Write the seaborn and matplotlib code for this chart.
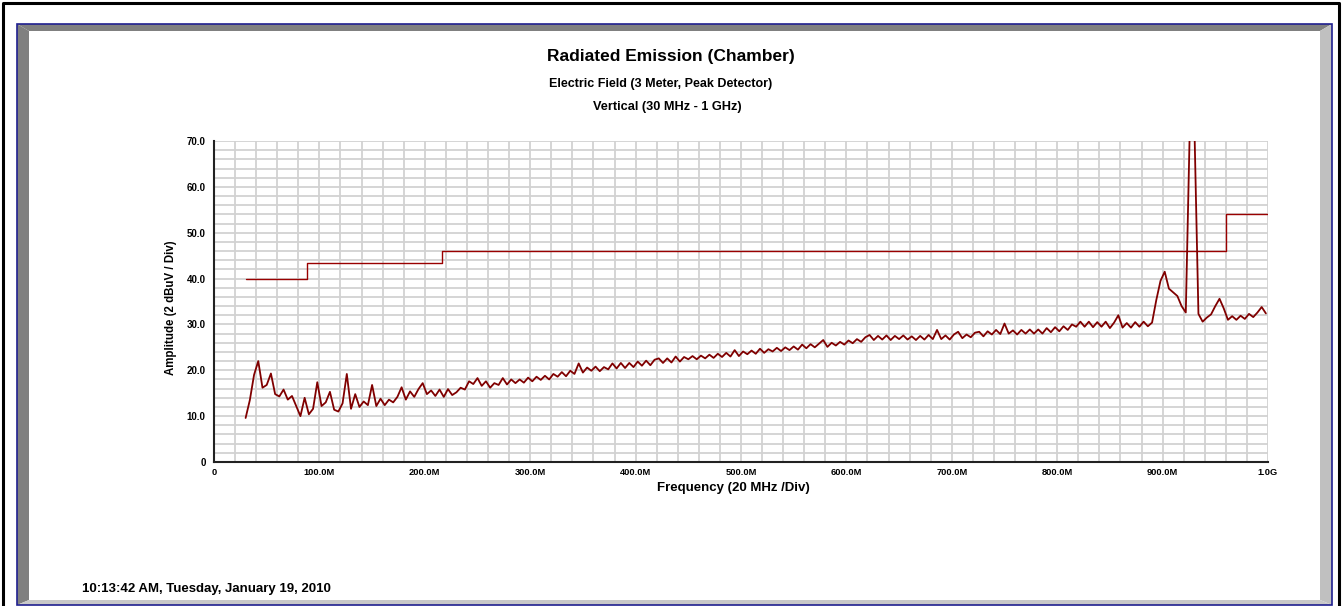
import numpy as np
import pandas as pd
import matplotlib.pyplot as plt
import seaborn as sns
from matplotlib.patches import Rectangle, Polygon
from matplotlib.ticker import MultipleLocator, FixedLocator

# Sweep: 30 MHz - 1 GHz, one reading every 4 MHz (dBuV/m, peak)
freq_mhz = np.arange(30, 1001, 4)
amplitude = [
    9.6, 13.5, 19.0, 22.0, 16.2, 16.8, 19.3, 14.8, 14.3, 15.8,
    13.6, 14.4, 12.2, 10.0, 14.0, 10.4, 11.6, 17.4, 12.2, 13.0,
    15.3, 11.4, 11.0, 12.8, 19.2, 11.6, 14.8, 12.0, 13.2, 12.4,
    16.8, 12.2, 13.8, 12.4, 13.6, 13.0, 14.2, 16.3, 13.6, 15.4,
    14.2, 15.9, 17.2, 14.8, 15.6, 14.4, 15.8, 14.2, 15.9, 14.6,
    15.2, 16.2, 15.8, 17.6, 17.0, 18.3, 16.6, 17.6, 16.2, 17.2,
    16.8, 18.3, 16.9, 18.0, 17.2, 18.0, 17.3, 18.4, 17.6, 18.6,
    17.9, 18.8, 18.0, 19.2, 18.6, 19.6, 18.7, 19.9, 19.2, 21.5,
    19.5, 20.6, 19.9, 20.8, 19.8, 20.7, 20.2, 21.5, 20.4, 21.6,
    20.5, 21.6, 20.7, 21.9, 21.0, 22.1, 21.1, 22.3, 22.6, 21.6,
    22.6, 21.7, 23.0, 21.9, 22.9, 22.4, 23.1, 22.4, 23.2, 22.6,
    23.4, 22.7, 23.6, 22.9, 23.8, 23.0, 24.4, 23.1, 24.1, 23.5,
    24.3, 23.6, 24.7, 23.8, 24.6, 24.1, 24.9, 24.2, 25.0, 24.4,
    25.2, 24.5, 25.6, 24.8, 25.7, 25.0, 25.8, 26.6, 25.1, 26.0,
    25.4, 26.2, 25.6, 26.5, 25.9, 26.8, 26.2, 27.2, 27.7, 26.6,
    27.5, 26.7, 27.6, 26.6, 27.5, 26.8, 27.6, 26.7, 27.4, 26.6,
    27.5, 26.7, 27.7, 26.8, 28.8, 26.8, 27.6, 26.7, 27.8, 28.4,
    27.0, 27.8, 27.2, 28.2, 28.4, 27.4, 28.5, 27.8, 28.8, 27.9,
    30.2, 28.0, 28.7, 27.8, 28.8, 28.0, 28.9, 28.0, 28.9, 28.0,
    29.2, 28.3, 29.4, 28.5, 29.6, 28.8, 30.0, 29.5, 30.6, 29.5,
    30.6, 29.4, 30.5, 29.5, 30.6, 29.2, 30.4, 32.0, 29.3, 30.3,
    29.3, 30.5, 29.5, 30.6, 29.6, 30.4, 35.3, 39.5, 41.5, 37.8,
    37.0, 36.2, 34.0, 32.6, 75.0, 75.0, 32.3, 30.6, 31.5, 32.2,
    34.0, 35.6, 33.5, 31.0, 31.8, 31.0, 31.9, 31.2, 32.3, 31.6,
    32.6, 33.8, 32.4,
]

# limit line (step changes)
limit_freq = [30, 88, 216, 960, 1000]
limit_amp = [40, 43.5, 46, 54, 54]

x_tick_vals = [0, 100, 200, 300, 400, 500, 600, 700, 800, 900, 1000]
x_tick_labels = ['0', '100.0M', '200.0M', '300.0M', '400.0M', '500.0M',
                 '600.0M', '700.0M', '800.0M', '900.0M', '1.0G']
y_tick_vals = [0, 10, 20, 30, 40, 50, 60, 70]
y_tick_labels = ['0', '10.0', '20.0', '30.0', '40.0', '50.0', '60.0', '70.0']

trace = pd.DataFrame({'freq': freq_mhz, 'amp': amplitude})
limit = pd.DataFrame({'freq': limit_freq, 'amp': limit_amp})

sns.set_style('white')
plt.rcParams['font.family'] = ['Liberation Sans', 'DejaVu Sans']
plt.rcParams['font.weight'] = 'bold'
plt.rcParams['text.color'] = 'black'
plt.rcParams['axes.labelcolor'] = 'black'
plt.rcParams['xtick.color'] = 'black'
plt.rcParams['ytick.color'] = 'black'

W, H = 1342, 606
fig = plt.figure(figsize=(W / 100, H / 100), dpi=100)

# background frame drawn in pixel coordinates
bg = fig.add_axes([0, 0, 1, 1], zorder=-5)
bg.set_xlim(0, W)
bg.set_ylim(H, 0)
bg.axis('off')
bg.add_patch(Polygon([(17, 24), (1332, 24), (1320, 31), (29, 31)], closed=True,
                     fc='#808080', ec='none'))
bg.add_patch(Polygon([(17, 24), (29, 31), (29, 600), (17, 605)], closed=True,
                     fc='#808080', ec='none'))
bg.add_patch(Polygon([(1332, 24), (1332, 605), (1320, 600), (1320, 31)], closed=True,
                     fc='#c0c0c0', ec='none'))
bg.add_patch(Polygon([(17, 605), (1332, 605), (1320, 600), (29, 600)], closed=True,
                     fc='#c8c8c8', ec='none'))
bg.add_patch(Rectangle((17, 24), 1315, 581, fc='none', ec='#1f1f8f', lw=1.2))
bg.plot([2.5, 2.5, 1339, 1339], [H, 2.5, 2.5, H], color='black', lw=2.2)

bg.text(671, 57, 'Radiated Emission (Chamber)', ha='center', va='center',
        fontsize=12.5, fontweight='bold')
bg.text(661, 84, 'Electric Field (3 Meter, Peak Detector)', ha='center', va='center',
        fontsize=9, fontweight='bold')
bg.text(667, 107, 'Vertical (30 MHz - 1 GHz)', ha='center', va='center',
        fontsize=9.2, fontweight='bold')
bg.text(82, 589, '10:13:42 AM, Tuesday, January 19, 2010', ha='left', va='center',
        fontsize=9.5, fontweight='bold')

ax = fig.add_axes([214 / W, 1 - 462 / H, (1268 - 214) / W, (462 - 141) / H])
sns.lineplot(data=limit, x='freq', y='amp', ax=ax, color='#990000', lw=1.0,
             drawstyle='steps-post', estimator=None)
sns.lineplot(data=trace, x='freq', y='amp', ax=ax, color='#800000', lw=1.3,
             estimator=None)

ax.set_xlim(0, 1000)
ax.set_ylim(0, 70)
ax.xaxis.set_major_locator(FixedLocator(x_tick_vals))
ax.set_xticklabels(x_tick_labels)
ax.xaxis.set_minor_locator(MultipleLocator(20))
ax.yaxis.set_major_locator(FixedLocator(y_tick_vals))
ax.set_yticklabels(y_tick_labels)
ax.yaxis.set_minor_locator(MultipleLocator(2))

ax.grid(which='both', color='#d2d2d2', lw=1.3)
ax.set_axisbelow(True)
for s in ['top', 'right']:
    ax.spines[s].set_visible(False)
for s in ['left', 'bottom']:
    ax.spines[s].set_color('#222222')
    ax.spines[s].set_linewidth(1.5)

ax.tick_params(axis='y', which='major', direction='inout', length=10, width=1.5,
               color='#222222', labelsize=7, pad=1)
ax.tick_params(axis='y', which='minor', direction='inout', length=5, width=1.5,
               color='#222222')
ax.tick_params(axis='x', which='major', direction='inout', length=6, width=1.2,
               color='#222222', labelsize=6.7, pad=1)
ax.tick_params(axis='x', which='minor', direction='inout', length=3.5, width=1.2,
               color='#222222')
for lbl in ax.get_xticklabels() + ax.get_yticklabels():
    lbl.set_fontweight('bold')

ax.set_xlabel('Frequency (20 MHz /Div)', fontsize=9.5, fontweight='bold')
ax.xaxis.set_label_coords((733 - 214) / 1054, -0.062)
ax.set_ylabel('Amplitude (2 dBuV / Div)', fontsize=8.3, fontweight='bold')
ax.yaxis.set_label_coords(-0.035, 0.48)

fig.savefig('out.png', dpi=100)
